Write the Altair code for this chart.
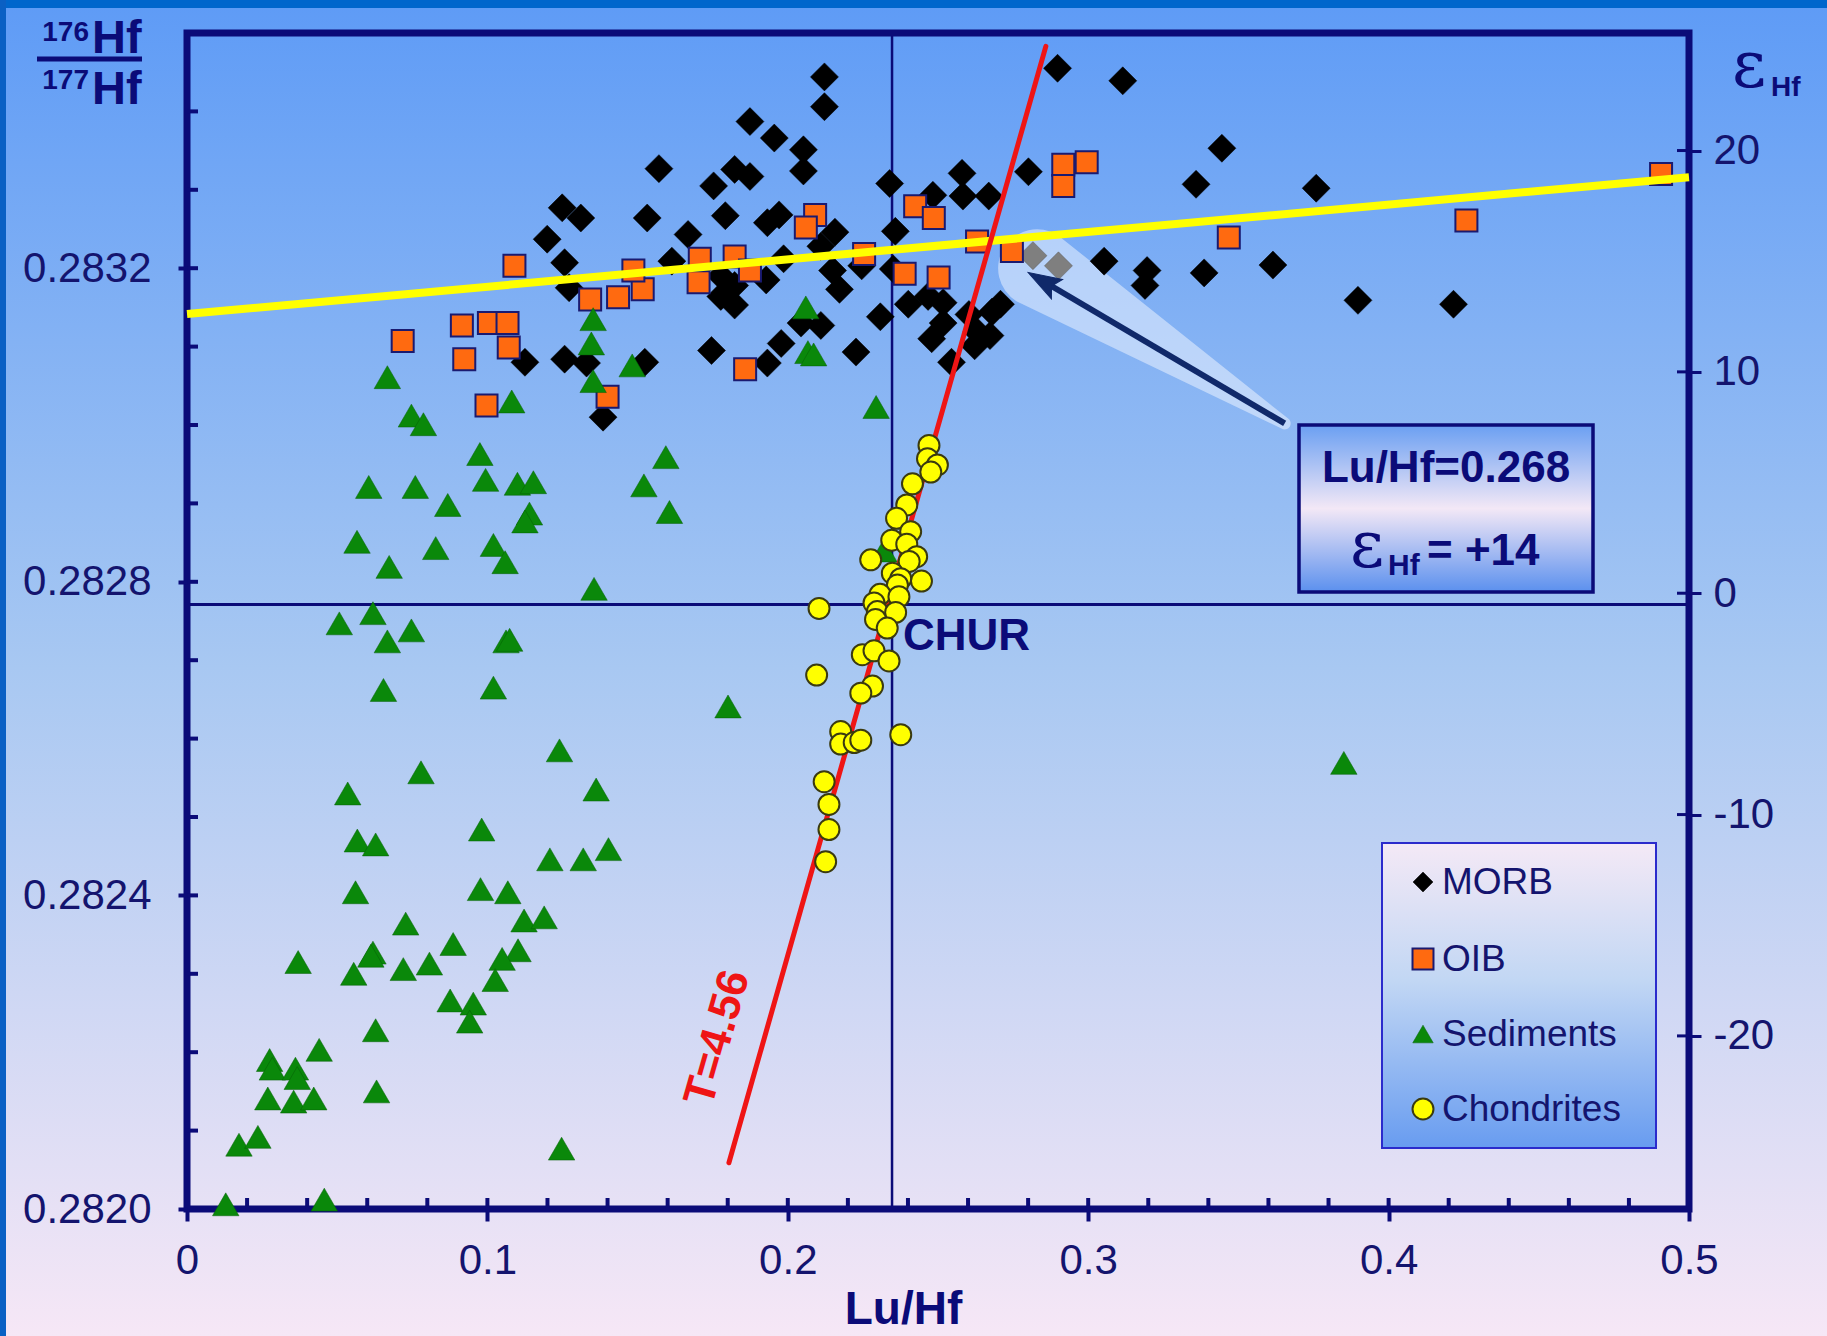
import altair as alt
import pandas as pd

# ---------------- data ----------------
morb_luhf = [0.2122, 0.2122, 0.1874, 0.1955, 0.2052, 0.2052, 0.1571, 0.1823, 0.1874, 0.1753,
             0.1249, 0.1311, 0.1532, 0.1792, 0.1971, 0.1932, 0.1199, 0.1668, 0.2157, 0.1257,
             0.1614, 0.1986, 0.1777, 0.1928, 0.2149, 0.1272, 0.1823, 0.1823, 0.1777, 0.2044,
             0.2110, 0.1746, 0.1978, 0.1932, 0.1125, 0.1257, 0.1330, 0.1524, 0.1385, 0.2898,
             0.3115, 0.2110, 0.2172, 0.2246, 0.2351, 0.2227, 0.2339, 0.2580, 0.2483, 0.2583,
             0.2669, 0.2801, 0.3445, 0.3359, 0.3759, 0.2358, 0.2308, 0.2401, 0.2467, 0.2517,
             0.2479, 0.2517, 0.2603, 0.2630, 0.2673, 0.2622, 0.2708, 0.2680, 0.2545, 0.3053,
             0.3196, 0.3189, 0.3386, 0.3615, 0.3898, 0.4216]
morb_hf = [0.283444, 0.283406, 0.283387, 0.283366, 0.283351, 0.283324, 0.283327, 0.283326, 0.283317, 0.283305,
           0.283277, 0.283264, 0.283264, 0.283267, 0.283268, 0.283258, 0.283237, 0.283243, 0.283246, 0.283207,
           0.283209, 0.283212, 0.283190, 0.283185, 0.283197, 0.283175, 0.283178, 0.283153, 0.283164, 0.283130,
           0.283127, 0.283095, 0.283104, 0.283079, 0.283080, 0.283084, 0.283079, 0.283080, 0.283010, 0.283455,
           0.283439, 0.283228, 0.283173, 0.283203, 0.283199, 0.283093, 0.283308, 0.283321, 0.283293, 0.283292,
           0.283292, 0.283323, 0.283353, 0.283307, 0.283302, 0.283247, 0.283138, 0.283154, 0.283164, 0.283156,
           0.283110, 0.283130, 0.283141, 0.283119, 0.283114, 0.283101, 0.283154, 0.283144, 0.283080, 0.283209,
           0.283197, 0.283178, 0.283194, 0.283204, 0.283159, 0.283154]

highlight_luhf = [0.2816, 0.2901]
highlight_hf = [0.283216, 0.283203]

oib_luhf = [0.1090, 0.0718, 0.0915, 0.0923, 0.1005, 0.1067, 0.1071, 0.0997, 0.1342, 0.1435,
            0.1517, 0.1486, 0.1400, 0.1707, 0.1703, 0.1823, 0.1874, 0.1858, 0.2091, 0.2060,
            0.2424, 0.2486, 0.2254, 0.2389, 0.2502, 0.2630, 0.2746, 0.2917, 0.2995, 0.2917,
            0.3468, 0.4259, 0.4907]
oib_hf = [0.283203, 0.283107, 0.283127, 0.283084, 0.283130, 0.283130, 0.283099, 0.283025, 0.283160, 0.283163,
          0.283173, 0.283197, 0.283036, 0.283212, 0.283182, 0.283215, 0.283197, 0.283071, 0.283268, 0.283252,
          0.283279, 0.283264, 0.283218, 0.283193, 0.283188, 0.283234, 0.283222, 0.283332, 0.283335, 0.283305,
          0.283239, 0.283261, 0.283320]

sed_luhf = [0.1352, 0.1346, 0.1482, 0.1352, 0.0667, 0.1081, 0.0747, 0.0787, 0.0975, 0.1594,
            0.0605, 0.0760, 0.0994, 0.1100, 0.1153, 0.1521, 0.0868, 0.1140, 0.1125, 0.1606,
            0.0566, 0.0828, 0.1020, 0.1059, 0.0673, 0.1355, 0.0619, 0.0507, 0.0747, 0.0667,
            0.1062, 0.1074, 0.0654, 0.1020, 0.1801, 0.1240, 0.0779, 0.0535, 0.1362, 0.0981,
            0.0567, 0.0628, 0.1208, 0.1319, 0.1403, 0.0561, 0.0977, 0.1068, 0.0728, 0.1122,
            0.1189, 0.0886, 0.0619, 0.0612, 0.1102, 0.1049, 0.0370, 0.0555, 0.0720, 0.0807,
            0.1026, 0.0876, 0.0953, 0.0941, 0.0628, 0.0275, 0.0284, 0.0361, 0.0367, 0.0440,
            0.0269, 0.0355, 0.0422, 0.0631, 0.0173, 0.0236, 0.1247, 0.0129, 0.0457, 0.3851,
            0.2060, 0.2067, 0.2086, 0.2294, 0.2320]
sed_hf = [0.283135, 0.283104, 0.283076, 0.283056, 0.283061, 0.283030, 0.283012, 0.283001, 0.282963, 0.282959,
          0.282921, 0.282921, 0.282930, 0.282925, 0.282927, 0.282923, 0.282898, 0.282887, 0.282877, 0.282889,
          0.282851, 0.282843, 0.282847, 0.282825, 0.282819, 0.282791, 0.282760, 0.282747, 0.282738, 0.282724,
          0.282724, 0.282726, 0.282662, 0.282665, 0.282641, 0.282585, 0.282557, 0.282530, 0.282535, 0.282484,
          0.282470, 0.282465, 0.282446, 0.282446, 0.282459, 0.282404, 0.282408, 0.282404, 0.282364, 0.282368,
          0.282372, 0.282338, 0.282327, 0.282323, 0.282330, 0.282319, 0.282315, 0.282300, 0.282306, 0.282313,
          0.282292, 0.282266, 0.282262, 0.282239, 0.282228, 0.282190, 0.282179, 0.282179, 0.282167, 0.282203,
          0.282141, 0.282137, 0.282141, 0.282150, 0.282082, 0.282092, 0.282077, 0.282006, 0.282012, 0.282569,
          0.283150, 0.283093, 0.283090, 0.283023, 0.282840]

chon_luhf = [0.2470, 0.2465, 0.2498, 0.2476, 0.2415, 0.2396, 0.2362, 0.2409, 0.2346, 0.2396,
             0.2276, 0.2429, 0.2404, 0.2348, 0.2376, 0.2445, 0.2365, 0.2307, 0.2370, 0.2287,
             0.2104, 0.2298, 0.2359, 0.2292, 0.2331, 0.2248, 0.2287, 0.2337, 0.2096, 0.2282,
             0.2243, 0.2176, 0.2176, 0.2221, 0.2243, 0.2376, 0.2121, 0.2137, 0.2137, 0.2126]
chon_hf = [0.282974, 0.282957, 0.282949, 0.282940, 0.282925, 0.282898, 0.282881, 0.282864, 0.282853, 0.282848,
           0.282828, 0.282832, 0.282826, 0.282811, 0.282804, 0.282801, 0.282796, 0.282784, 0.282781, 0.282773,
           0.282766, 0.282762, 0.282761, 0.282752, 0.282741, 0.282707, 0.282712, 0.282699, 0.282681, 0.282667,
           0.282658, 0.282609, 0.282593, 0.282595, 0.282598, 0.282605, 0.282545, 0.282516, 0.282484, 0.282443]

# reference lines
chur_luhf = 0.2347
chur_hf = 0.282771
yellow_luhf = [0.0, 0.5]
yellow_hf = [0.2831415, 0.283316]
iso_luhf = [0.1804, 0.2859]
iso_hf = [0.282059, 0.283483]
arrow_luhf = [0.3654, 0.2852]        # tail -> arrow-head centre
arrow_hf = [0.283002, 0.283183]
glow_luhf = [0.3654, 0.2830]
glow_hf = [0.283002, 0.283200]
glow_w = [12, 78]

# axes ticks / labels
x_major = [0.0, 0.1, 0.2, 0.3, 0.4, 0.5]
x_minor = [0.02, 0.04, 0.06, 0.08, 0.12, 0.14, 0.16, 0.18, 0.22, 0.24, 0.26, 0.28,
           0.32, 0.34, 0.36, 0.38, 0.42, 0.44, 0.46, 0.48]
y_major = [0.2820, 0.2824, 0.2828, 0.2832]
y_minor = [0.2821, 0.2822, 0.2823, 0.2824, 0.2825, 0.2826, 0.2827, 0.2828, 0.2829,
           0.2830, 0.2831, 0.2832, 0.2833, 0.2834]
eps_major = [-20, -10, 0, 10, 20]
eps_domain = [-27.82, 25.31]
legend_labels = ["MORB", "OIB", "Sediments", "Chondrites"]

# ---------------- styling ----------------
W, H = 1502, 1176
NAVY = "#0b0b78"
TXT = "#14146e"
FONT = "Liberation Sans"
ARROW = "#10296a"
ARROW_PATH = "M0,-1L0.62,0.85L0,0.5L-0.62,0.85Z"

xscale = alt.Scale(domain=[0, 0.5], nice=False, zero=False)
yscale = alt.Scale(domain=[0.2820, 0.2835], nice=False, zero=False)
one = pd.DataFrame({"k": [0]})

xaxis = alt.Axis(values=x_major, format="~g", title="Lu/Hf", titleFont=FONT, titleFontSize=46,
                 titleFontWeight="bold", titleColor=NAVY, titleX=716, titleY=100,
                 titleAlign="center", titleBaseline="middle",
                 labelFont=FONT, labelFontSize=42, labelColor=TXT, labelPadding=19,
                 labelFlush=False, labelOverlap=False,
                 tickSize=12, tickWidth=4, tickColor=NAVY, domain=False, grid=False, zindex=1)
yaxis = alt.Axis(values=y_major, format=".4f", title=None,
                 labelFont=FONT, labelFontSize=42, labelColor=TXT, labelPadding=27,
                 labelFlush=False, labelOverlap=False,
                 tickSize=9, tickWidth=4, tickColor=NAVY, domain=False, grid=False, zindex=1)


def xy_df(xs, ys):
    return pd.DataFrame({"luhf": xs, "hf": ys})


def X():
    return alt.X("luhf:Q", scale=xscale, axis=xaxis)


def Y():
    return alt.Y("hf:Q", scale=yscale, axis=yaxis)


def grad(stops):
    return alt.LinearGradient(gradient="linear", x1=0, x2=0, y1=0, y2=1,
                              stops=[alt.GradientStop(color=c, offset=o) for o, c in stops])


layers = []

# slide background
layers.append(alt.Chart(one).mark_rect(
    fill=grad([(0, "#5e9bf6"), (0.5, "#a8c8f2"), (1, "#f6e7f6")])
).encode(x=alt.value(-187), x2=alt.value(1640), y=alt.value(-33), y2=alt.value(1303)))
layers.append(alt.Chart(one).mark_rect(fill="#0066cc").encode(
    x=alt.value(-187), x2=alt.value(1640), y=alt.value(-33), y2=alt.value(-25)))
layers.append(alt.Chart(one).mark_rect(fill="#0a60c4").encode(
    x=alt.value(-187), x2=alt.value(-181), y=alt.value(-33), y2=alt.value(1303)))

# CHUR cross-hair lines
layers.append(alt.Chart(pd.DataFrame({"luhf": [chur_luhf]})).mark_rule(
    color=NAVY, strokeWidth=2.5).encode(x=X(), y=alt.value(0), y2=alt.value(H)))
layers.append(alt.Chart(pd.DataFrame({"hf": [chur_hf]})).mark_rule(
    color=NAVY, strokeWidth=3).encode(y=Y(), x=alt.value(0), x2=alt.value(W)))

# frame and inner ticks
layers.append(alt.Chart(one).mark_rect(fillOpacity=0, stroke=NAVY, strokeWidth=7).encode(
    x=alt.value(0), x2=alt.value(W), y=alt.value(0), y2=alt.value(H)))
layers.append(alt.Chart(pd.DataFrame({"hf": y_minor})).mark_rule(color=NAVY, strokeWidth=4).encode(
    y=Y(), x=alt.value(0), x2=alt.value(11)))
layers.append(alt.Chart(pd.DataFrame({"luhf": x_minor + x_major[1:-1]})).mark_rule(
    color=NAVY, strokeWidth=4).encode(x=X(), y=alt.value(H), y2=alt.value(H - 11)))

# arrow glow
layers.append(alt.Chart(pd.DataFrame({"luhf": glow_luhf, "hf": glow_hf, "w": glow_w}))
              .mark_trail(color="#f4f8ff", opacity=0.5)
              .encode(x=X(), y=Y(), size=alt.Size("w:Q", scale=None, legend=None)))

# data
layers.append(alt.Chart(xy_df(morb_luhf, morb_hf)).mark_point(
    shape="diamond", filled=True, fill="black", stroke="black", strokeWidth=0.5, size=784, opacity=1
).encode(x=X(), y=Y()))
layers.append(alt.Chart(xy_df(highlight_luhf, highlight_hf)).mark_point(
    shape="diamond", filled=True, fill="#7f7f7f", stroke="#5a5a5a", strokeWidth=0.5, size=784, opacity=1
).encode(x=X(), y=Y()))
layers.append(alt.Chart(xy_df(oib_luhf, oib_hf)).mark_point(
    shape="square", filled=True, fill="#ff6a10", stroke="#1a1a70", strokeWidth=2, size=484, opacity=1
).encode(x=X(), y=Y()))
layers.append(alt.Chart(xy_df(sed_luhf, sed_hf)).mark_point(
    shape="triangle-up", filled=True, fill="#0a880a", stroke="#066006", strokeWidth=0.5, size=700, opacity=1
).encode(x=X(), y=Y()))
layers.append(alt.Chart(xy_df(yellow_luhf, yellow_hf)).mark_line(
    color="#ffff00", strokeWidth=8).encode(x=X(), y=Y()))
layers.append(alt.Chart(xy_df(iso_luhf, iso_hf)).mark_line(
    color="#ef1515", strokeWidth=5, strokeCap="round").encode(x=X(), y=Y()))
layers.append(alt.Chart(xy_df(chon_luhf, chon_hf)).mark_point(
    shape="circle", filled=True, fill="#ffff00", stroke="#3a3a10", strokeWidth=2, size=440, opacity=1
).encode(x=X(), y=Y()))

# arrow
layers.append(alt.Chart(xy_df(arrow_luhf, arrow_hf)).mark_line(
    color=ARROW, strokeWidth=6).encode(x=X(), y=Y()))
layers.append(alt.Chart(xy_df(arrow_luhf[1:], arrow_hf[1:])).mark_point(
    shape=ARROW_PATH, filled=True, fill=ARROW, stroke=ARROW, strokeWidth=1, size=1296, angle=300, opacity=1
).encode(x=X(), y=Y()))

# in-plot labels
layers.append(alt.Chart(one).mark_text(text="CHUR", font=FONT, fontSize=44, fontWeight="bold",
                                       color=NAVY, align="left", baseline="alphabetic")
              .encode(x=alt.value(716), y=alt.value(617)))
layers.append(alt.Chart(one).mark_text(text="T=4.56", font=FONT, fontSize=44, fontWeight="bold",
                                       color="#ef1515", align="center", baseline="middle", angle=286)
              .encode(x=alt.value(531), y=alt.value(1005)))

# annotation box
layers.append(alt.Chart(one).mark_rect(
    fill=grad([(0, "#6a9ff2"), (0.5, "#f3e8f6"), (1, "#5b90ee")]), stroke=NAVY, strokeWidth=3.5
).encode(x=alt.value(1112), x2=alt.value(1406), y=alt.value(392), y2=alt.value(559)))
layers.append(alt.Chart(one).mark_text(text="Lu/Hf=0.268", font=FONT, fontSize=44, fontWeight="bold",
                                       color=NAVY, align="center", baseline="alphabetic")
              .encode(x=alt.value(1259), y=alt.value(449)))
layers.append(alt.Chart(one).mark_text(text="ε", font="DejaVu Serif", fontSize=66,
                                       color=NAVY, align="center", baseline="alphabetic")
              .encode(x=alt.value(1180), y=alt.value(534)))
layers.append(alt.Chart(one).mark_text(text="Hf", font=FONT, fontSize=30, fontWeight="bold",
                                       color=NAVY, align="left", baseline="alphabetic")
              .encode(x=alt.value(1201), y=alt.value(542)))
layers.append(alt.Chart(one).mark_text(text="= +14", font=FONT, fontSize=44, fontWeight="bold",
                                       color=NAVY, align="left", baseline="alphabetic")
              .encode(x=alt.value(1240), y=alt.value(532)))

# legend
layers.append(alt.Chart(one).mark_rect(
    fill=grad([(0, "#f4e9f6"), (0.45, "#c2d7f4"), (1, "#689cf0")]), stroke="#2b2bcc", strokeWidth=2
).encode(x=alt.value(1195), x2=alt.value(1469), y=alt.value(810), y2=alt.value(1115)))
leg_y = [849, 926, 1001, 1076]
leg_marks = [
    dict(shape="diamond", fill="black", stroke="black", strokeWidth=0.5, size=400),
    dict(shape="square", fill="#ff6a10", stroke="#1a1a70", strokeWidth=2, size=440),
    dict(shape="triangle-up", fill="#0a880a", stroke="#066006", strokeWidth=0.5, size=420),
    dict(shape="circle", fill="#ffff00", stroke="#3a3a10", strokeWidth=2, size=440),
]
for lab, ly, mk in zip(legend_labels, leg_y, leg_marks):
    layers.append(alt.Chart(one).mark_point(filled=True, opacity=1, **mk)
                  .encode(x=alt.value(1236), y=alt.value(ly)))
    layers.append(alt.Chart(one).mark_text(text=lab, font=FONT, fontSize=37, color=TXT,
                                           align="left", baseline="middle")
                  .encode(x=alt.value(1255), y=alt.value(ly + 1)))

# left axis title: 176Hf / 177Hf
for txt, xx, yy, fs, al in [("176", -98, 8, 28, "right"), ("Hf", -95, 20, 47, "left"),
                            ("177", -98, 56, 28, "right"), ("Hf", -95, 71, 47, "left")]:
    layers.append(alt.Chart(one).mark_text(text=txt, font=FONT, fontSize=fs, fontWeight="bold",
                                           color=NAVY, align=al, baseline="alphabetic")
                  .encode(x=alt.value(xx), y=alt.value(yy)))
layers.append(alt.Chart(one).mark_rule(color=NAVY, strokeWidth=5).encode(
    x=alt.value(-150), x2=alt.value(-45), y=alt.value(26)))

# right axis title: εHf
layers.append(alt.Chart(one).mark_text(text="ε", font="DejaVu Serif", fontSize=66, color=NAVY,
                                       align="center", baseline="alphabetic")
              .encode(x=alt.value(1562), y=alt.value(54)))
layers.append(alt.Chart(one).mark_text(text="Hf", font=FONT, fontSize=28, fontWeight="bold",
                                       color=NAVY, align="left", baseline="alphabetic")
              .encode(x=alt.value(1584), y=alt.value(63)))

inner = alt.layer(*layers)

# right-hand epsilon axis
right = alt.Chart(pd.DataFrame({"eps": eps_major})).mark_rule(color=NAVY, strokeWidth=3).encode(
    y=alt.Y("eps:Q", scale=alt.Scale(domain=eps_domain, nice=False, zero=False),
            axis=alt.Axis(orient="right", values=eps_major, labelExpr="'' + datum.value", title=None,
                          labelFont=FONT, labelFontSize=42, labelColor=TXT, labelPadding=12,
                          labelOverlap=False, labelFlush=False,
                          tickSize=12, tickWidth=3, tickColor=NAVY, domain=False, grid=False,
                          zindex=1)),
    x=alt.value(W - 12), x2=alt.value(W))

chart = alt.layer(inner, right).resolve_scale(y="independent").properties(
    width=W, height=H, autosize="none", background="#7fb0f5",
    padding={"left": 187, "top": 33, "right": 138, "bottom": 127}
).configure_view(strokeWidth=0)

chart.save("out.html", embed_options={"renderer": "svg", "actions": False})
